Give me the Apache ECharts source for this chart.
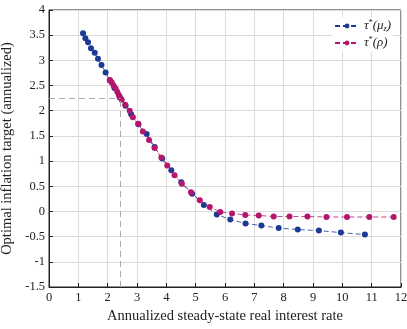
<!DOCTYPE html>
<html>
<head>
<meta charset="utf-8">
<script src="https://cdn.jsdelivr.net/npm/echarts@6/dist/echarts.min.js"></script>
<style>html,body{margin:0;padding:0;background:#fff}#c{width:407px;height:329px}</style>
</head>
<body>
<div id="c"></div>
<script>
// Series tau*(mu_z): [real rate, optimal inflation target]
const muX = [1.16,1.24,1.33,1.43,1.56,1.67,1.79,1.93,2.08,2.23,2.41,2.61,2.80,3.05,3.33,3.60,3.86,4.17,4.51,4.88,5.28,5.72,6.18,6.70,7.24,7.83,8.48,9.20,9.95,10.77];
const muY = [3.54,3.44,3.36,3.24,3.15,3.03,2.91,2.76,2.60,2.45,2.27,2.10,1.93,1.73,1.54,1.28,1.05,0.82,0.58,0.35,0.13,-0.06,-0.16,-0.24,-0.28,-0.33,-0.36,-0.38,-0.42,-0.46];
// Series tau*(rho)
const rhoX = [2.07,2.14,2.20,2.27,2.33,2.38,2.43,2.48,2.60,2.75,2.86,3.04,3.20,3.41,3.60,3.83,4.03,4.28,4.53,4.84,5.14,5.48,5.84,6.24,6.69,7.15,7.66,8.20,8.81,9.46,10.16,10.92,11.75];
const rhoY = [2.61,2.56,2.50,2.44,2.37,2.31,2.26,2.22,2.12,2.00,1.87,1.74,1.59,1.42,1.26,1.07,0.91,0.72,0.55,0.38,0.22,0.09,-0.01,-0.04,-0.07,-0.08,-0.10,-0.10,-0.10,-0.11,-0.11,-0.11,-0.11];
// Reference point (baseline calibration)
const refX = 2.44, refY = 2.24;
const xTicks = [0,1,2,3,4,5,6,7,8,9,10,11,12];
const yTicks = [-1.5,-1,-0.5,0,0.5,1,1.5,2,2.5,3,3.5,4];

const FONT = 'Liberation Serif';
const blue = '#1c3a94', mag = '#b3166c';
const zip = (a,b) => a.map((v,i)=>[v,b[i]]);

const chart = echarts.init(document.getElementById('c'), null, {renderer:'canvas'});
chart.setOption({
  animation:false,
  backgroundColor:'#fff',
  textStyle:{fontFamily:FONT},
  grid:{left:49, right:6, top:10, bottom:42, show:true, borderColor:'#222', borderWidth:1, containLabel:false, outerBoundsMode:'none'},
  legend:{
    right:14, top:17, orient:'vertical', itemGap:3, itemWidth:24, itemHeight:6,
    backgroundColor:'#fff', padding:[2,2,2,2],
    data:['mu','rho'],
    formatter: n => n==='mu' ? '{a|τ}{s|*}{a|(μ}{z|z}{a|)}' : '{a|τ}{s|*}{a|(ρ)}',
    textStyle:{fontFamily:FONT, color:'#222', rich:{
      a:{fontFamily:FONT, fontSize:13, fontStyle:'italic', color:'#222'},
      s:{fontFamily:FONT, fontSize:8, color:'#222', verticalAlign:'top', padding:[0,0,6,0]},
      z:{fontFamily:FONT, fontSize:8, fontStyle:'italic', color:'#222', verticalAlign:'bottom', padding:[5,0,0,0]}
    }}
  },
  xAxis:{
    type:'value', min:0, max:12, interval:1,
    name:'Annualized steady-state real interest rate', nameLocation:'middle', nameGap:20,
    nameTextStyle:{fontFamily:FONT, fontSize:14.5, color:'#222'},
    axisLine:{show:true, onZero:false, lineStyle:{color:'#222'}},
    axisTick:{show:true, inside:true, length:4, lineStyle:{color:'#222'}},
    axisLabel:{fontFamily:FONT, fontSize:12.5, color:'#222', margin:4, formatter:v=>String(v)},
    splitLine:{show:true, lineStyle:{color:'#dcdcdc', width:1}}
  },
  yAxis:{
    type:'value', min:-1.5, max:4, interval:0.5,
    name:'Optimal inflation target (annualized)', nameLocation:'middle', nameGap:32,
    nameTextStyle:{fontFamily:FONT, fontSize:14.5, color:'#222'},
    axisLine:{show:true, onZero:false, lineStyle:{color:'#222'}},
    axisTick:{show:true, inside:true, length:4, lineStyle:{color:'#222'}},
    axisLabel:{fontFamily:FONT, fontSize:12.5, color:'#222', margin:4, formatter:v=>String(v)},
    splitLine:{show:true, lineStyle:{color:'#dcdcdc', width:1}}
  },
  series:[
    {
      name:'mu', type:'line', data:zip(muX,muY),
      symbol:'circle', symbolSize:6, showSymbol:true,
      lineStyle:{color:blue, width:0.8, type:[5,3]},
      itemStyle:{color:blue},
      markLine:{
        silent:true, symbol:'none', label:{show:false},
        lineStyle:{color:'#aaa', type:[6,4], width:1},
        data:[
          [{coord:[0,refY]},{coord:[refX,refY]}],
          [{coord:[refX,-1.5]},{coord:[refX,refY]}]
        ]
      },
      z:2
    },
    {
      name:'rho', type:'line', data:zip(rhoX,rhoY),
      symbol:'circle', symbolSize:6, showSymbol:true,
      lineStyle:{color:mag, width:0.8, type:[5,3]},
      itemStyle:{color:mag},
      z:3
    }
  ]
});
</script>
</body>
</html>
